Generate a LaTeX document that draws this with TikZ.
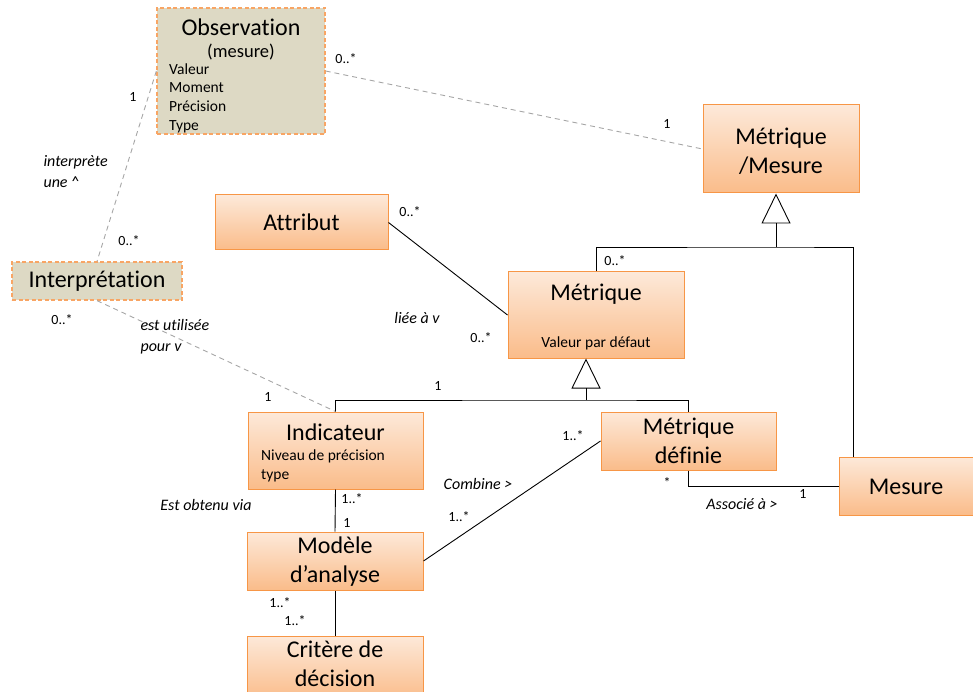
\documentclass[tikz,border=0pt]{standalone}
\usepackage{fontspec}
\setmainfont{Carlito}[Ligatures=NoCommon]
\usepackage{tikz}
\usetikzlibrary{positioning, arrows.meta}

\definecolor{boxline}{RGB}{247,150,70}
\definecolor{boxtop}{RGB}{253,233,217}
\definecolor{boxbot}{RGB}{250,188,138}
\definecolor{notefill}{RGB}{221,217,196}
\definecolor{noteline}{RGB}{248,165,100}
\definecolor{dashgray}{RGB}{166,166,166}

\tikzset{
    classbox/.style={draw=boxline, line width=1pt, top color=boxtop, bottom color=boxbot, inner sep=0pt},
    notebox/.style={draw=noteline, line width=1.3pt, dash pattern=on 4pt off 2.5pt, fill=notefill, inner sep=0pt},
    bigtxt/.style={font=\fontsize{24}{29}\selectfont, align=center},
    smalltxt/.style={font=\fontsize{15.5}{19}\selectfont, align=left},
    listtxt/.style={smalltxt, anchor=base west, inner sep=2pt},
    mult/.style={font=\fontsize{14}{16}\selectfont},
    rolelab/.style={font=\fontsize{16}{21}\selectfont\itshape, align=left},
    assoc/.style={line width=0.9pt},
    dashassoc/.style={draw=dashgray, line width=0.9pt, dash pattern=on 5pt off 4pt},
    genlink/.style={line width=0.9pt, -{Triangle[open, length=30pt, width=29pt]}}
}

\begin{document}
\begin{tikzpicture}[x=1pt, y=-1pt]
    \useasboundingbox (0,0) rectangle (973,692);

    % Observation (mesure)
    \node[notebox, minimum width=168pt, minimum height=126pt] (obs) at (241,71) {};
    \node[bigtxt] (obstitle) at (241,27) {Observation};
    \node[font=\fontsize{18.5}{20}\selectfont] (obssub) at (241,52) {(mesure)};
    \node[listtxt] (obsval) at (167,75) {Valeur};
    \node[listtxt] (obsmom) at (167,93) {Moment};
    \node[listtxt] (obsprec) at (167,112) {Précision};
    \node[listtxt] (obstype) at (167,131) {Type};

    % Interpretation
    \node[notebox, minimum width=170pt, minimum height=38pt] (interp) at (97,281) {};
    \node[bigtxt] (interptxt) at (97,281) {Interprétation};

    % Metrique / Mesure
    \node[classbox, minimum width=156pt, minimum height=88pt] (mm) at (781,149) {};
    \node[bigtxt] (mmtxt) at (781,151) {Métrique\\/Mesure};

    % Attribut
    \node[classbox, minimum width=173pt, minimum height=55pt] (attr) at (301.5,222.5) {};
    \node[bigtxt] (attrtxt) at (301.5,222.5) {Attribut};

    % Metrique
    \node[classbox, minimum width=176pt, minimum height=86pt] (metr) at (596,315) {};
    \node[bigtxt] (metrtxt) at (596,294) {Métrique};
    \node[smalltxt] (metrval) at (596,343) {Valeur par défaut};

    % Indicateur
    \node[classbox, minimum width=175pt, minimum height=77pt] (indic) at (335.5,450.5) {};
    \node[bigtxt] (indictxt) at (335.5,432) {Indicateur};
    \node[smalltxt, anchor=west, inner sep=2pt] (indicattr) at (259,466) {Niveau de précision\\type};

    % Metrique definie
    \node[classbox, minimum width=175pt, minimum height=58pt] (md) at (688.5,441) {};
    \node[bigtxt] (mdtxt) at (688.5,441) {Métrique\\définie};

    % Mesure
    \node[classbox, minimum width=136pt, minimum height=58pt] (mes) at (907,486) {};
    \node[bigtxt] (mestxt) at (906,487) {Mesure};

    % Modele d'analyse
    \node[classbox, minimum width=176pt, minimum height=58pt] (modele) at (335,561) {};
    \node[bigtxt] (modeletxt) at (335,562) {Modèle\\d’analyse};

    % Critere de decision
    \node[classbox, minimum width=176pt, minimum height=64pt] (crit) at (335,668) {};
    \node[bigtxt] (crittxt) at (335,664) {Critère de\\décision};

    % Generalisations
    \coordinate (gen1) at (586,400);
    \coordinate (gen2) at (776,247);
    \coordinate (gen2r) at (853,247);
    \draw[assoc] (indic.north) |- (gen1) -| (md.north);
    \draw[genlink] (gen1) -- (gen1 |- metr.south);
    \draw[assoc] (metr.north) |- (gen2) -- (gen2r) -- (gen2r |- mes.north);
    \draw[genlink] (gen2) -- (gen2 |- mm.south);

    % Associations
    \draw[dashassoc] (obs.east) -- (mm.west);
    \draw[dashassoc] (obs.west) -- (interp.north);
    \draw[dashassoc] (interp.south) -- (indic.north);
    \draw[assoc] (attr.east) -- (metr.west);
    \draw[assoc] (indic.south) -- (modele.north);
    \draw[assoc] (modele.south) -- (crit.north);
    \draw[assoc] (modele.east) -- (md.west);
    \draw[assoc] (md.south) |- (mes.west);

    % Multiplicites
    \node[mult] (m1) at (346,59) {0..*};
    \node[mult] (m2) at (667,124) {1};
    \node[mult] (m3) at (133,97) {1};
    \node[mult] (m4) at (129,241) {0..*};
    \node[mult] (m5) at (62,320) {0..*};
    \node[mult] (m6) at (268,397) {1};
    \node[mult] (m7) at (410,212) {0..*};
    \node[mult] (m8) at (481,338) {0..*};
    \node[mult] (m9) at (615,261) {0..*};
    \node[mult] (m10) at (438,386) {1};
    \node[mult] (m11) at (573,436) {1..*};
    \node[mult] (m12) at (459,517) {1..*};
    \node[mult] (m13) at (667,483) {*};
    \node[mult] (m14) at (803,494) {1};
    \node[mult] (m15) at (352,499) {1..*};
    \node[mult] (m16) at (347,523) {1};
    \node[mult] (m17) at (280,603) {1..*};
    \node[mult] (m18) at (295,621) {1..*};

    % Roles
    \node[rolelab, anchor=west] (r1) at (40,172) {interprète\\une \textasciicircum};
    \node[rolelab, anchor=west] (r2) at (137,337) {est utilisée\\pour v};
    \node[rolelab] (r3) at (417,318) {liée à v};
    \node[rolelab] (r4) at (478,484) {Combine >};
    \node[rolelab] (r5) at (742,504) {Associé à >};
    \node[rolelab] (r6) at (206,505) {Est obtenu via};
\end{tikzpicture}
\end{document}
